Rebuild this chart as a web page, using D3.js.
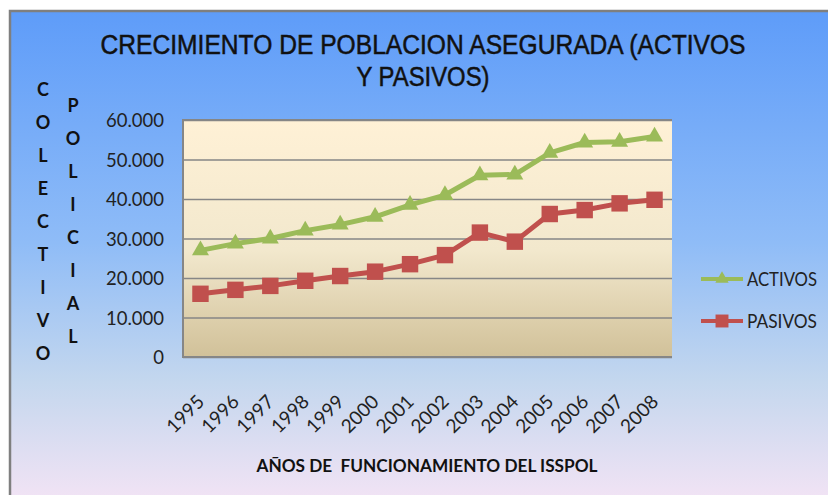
<!DOCTYPE html>
<html>
<head>
<meta charset="utf-8">
<script src="https://cdn.jsdelivr.net/npm/d3@7"></script>
<style>
  body { margin: 0; padding: 0; overflow: hidden; background: #fff; }
  svg { display: block; }
</style>
</head>
<body>
<div class="chart"></div>
<script>
// data
const years = ["1995", "1996", "1997", "1998", "1999", "2000", "2001",
  "2002", "2003", "2004", "2005", "2006", "2007", "2008"];
const activos = [27000, 28700, 30000, 32000, 33500, 35500, 38500,
  41000, 46000, 46200, 51700, 54300, 54500, 55800];
const pasivos = [16000, 17000, 18000, 19300, 20500, 21600, 23500,
  25800, 31500, 29200, 36200, 37200, 38900, 39800];
const yTicks = [0, 10000, 20000, 30000, 40000, 50000, 60000];

const titleLines = ["CRECIMIENTO DE POBLACION ASEGURADA (ACTIVOS", "Y PASIVOS)"];
const xTitle = "AÑOS DE  FUNCIONAMIENTO DEL ISSPOL";
const yTitle1 = "COLECTIVO";
const yTitle2 = "POLICIAL";

const width = 828,
  height = 495;
const plot = { left: 183, right: 672, top: 120, bottom: 357 };

const svg = d3
  .select(".chart")
  .append("svg")
  .attr("width", width)
  .attr("height", height);

const defs = svg.append("defs");

const bg = defs
  .append("linearGradient")
  .attr("id", "bg")
  .attr("x1", 0).attr("y1", 0).attr("x2", 0).attr("y2", 1);
bg.append("stop").attr("offset", "0%").attr("stop-color", "#5e9cf9");
bg.append("stop").attr("offset", "45%").attr("stop-color", "#8fbcf7");
bg.append("stop").attr("offset", "72%").attr("stop-color", "#c4d7ee");
bg.append("stop").attr("offset", "100%").attr("stop-color", "#fce6f6");

const plotBg = defs
  .append("linearGradient")
  .attr("id", "plotBg")
  .attr("x1", 0).attr("y1", 0).attr("x2", 0).attr("y2", 1);
plotBg.append("stop").attr("offset", "0%").attr("stop-color", "#fff1d6");
plotBg.append("stop").attr("offset", "55%").attr("stop-color", "#f2e8cd");
plotBg.append("stop").attr("offset", "100%").attr("stop-color", "#d1c199");

// chart area background + border
svg
  .append("rect")
  .attr("x", 10)
  .attr("y", 11)
  .attr("width", width + 20)
  .attr("height", height + 20)
  .attr("fill", "url(#bg)")
  .attr("stroke", "#7f7f7f")
  .attr("stroke-width", 2.5);

// plot area
svg
  .append("rect")
  .attr("x", plot.left)
  .attr("y", plot.top)
  .attr("width", plot.right - plot.left)
  .attr("height", plot.bottom - plot.top)
  .attr("fill", "url(#plotBg)");

// scales
const xScale = d3
  .scaleBand()
  .domain(years)
  .range([plot.left, plot.right]);

const yScale = d3
  .scaleLinear()
  .domain([0, 60000])
  .range([plot.bottom, plot.top]);

const locale = d3.formatLocale({
  decimal: ",",
  thousands: ".",
  grouping: [3],
  currency: ["$", ""]
});
const fmt = locale.format(",");

// gridlines
const grid = svg
  .append("g")
  .attr("transform", "translate(" + plot.left + ",0)")
  .call(
    d3.axisLeft(yScale)
      .tickValues(yTicks)
      .tickSize(-(plot.right - plot.left))
      .tickFormat("")
  );
grid.select(".domain").remove();
grid.selectAll("line").attr("stroke", "#868686").attr("stroke-width", 1.5);

// plot border (left, top, bottom)
svg
  .append("path")
  .attr("d", "M" + plot.right + "," + plot.top + "H" + plot.left + "V" + plot.bottom + "H" + plot.right)
  .attr("fill", "none")
  .attr("stroke", "#868686")
  .attr("stroke-width", 2);

// y axis
const yAxis = svg
  .append("g")
  .attr("transform", "translate(" + plot.left + ",0)")
  .call(d3.axisLeft(yScale).tickValues(yTicks).tickSize(0).tickPadding(19).tickFormat(fmt));
yAxis.select(".domain").remove();
yAxis
  .selectAll("text")
  .attr("font-family", "Lato, 'Open Sans', sans-serif")
  .attr("font-size", 18.5)
  .attr("fill", "#222")
  .attr("dy", "0.36em");

// x axis
const xAxis = svg
  .append("g")
  .attr("transform", "translate(0," + plot.bottom + ")")
  .call(d3.axisBottom(xScale).tickSize(0));
xAxis.select(".domain").remove();
xAxis
  .selectAll("text")
  .attr("font-family", "Lato, 'Open Sans', sans-serif")
  .attr("font-size", 19)
  .attr("fill", "#222")
  .attr("text-anchor", "end")
  .attr("y", 0)
  .attr("dy", 0)
  .attr("transform", "translate(5,46) rotate(-45)");

// lines
const line = d3
  .line()
  .x((d, i) => xScale(years[i]) + xScale.bandwidth() / 2)
  .y((d) => yScale(d));

const series = [
  { name: "ACTIVOS", values: activos, color: "#9bbb59", symbol: d3.symbolTriangle, size: 125 },
  { name: "PASIVOS", values: pasivos, color: "#c0504d", symbol: d3.symbolSquare, size: 270 }
];

series.forEach((s) => {
  svg
    .append("path")
    .datum(s.values)
    .attr("fill", "none")
    .attr("stroke", s.color)
    .attr("stroke-width", 5)
    .attr("stroke-linejoin", "round")
    .attr("d", line);

  svg
    .selectAll(".mk-" + s.name)
    .data(s.values)
    .enter()
    .append("path")
    .attr("class", "mk-" + s.name)
    .attr("d", d3.symbol().type(s.symbol).size(s.size))
    .attr("fill", s.color)
    .attr("transform", (d, i) =>
      "translate(" + (xScale(years[i]) + xScale.bandwidth() / 2) + "," + yScale(d) + ")");
});

// legend
const legend = svg
  .selectAll(".legend")
  .data(series)
  .enter()
  .append("g")
  .attr("class", "legend")
  .attr("transform", (d, i) => "translate(0," + (279 + i * 42) + ")");

legend
  .append("line")
  .attr("x1", 701)
  .attr("x2", 743)
  .attr("stroke", (d) => d.color)
  .attr("stroke-width", 4);

legend
  .append("path")
  .attr("d", (d) => d3.symbol().type(d.symbol).size(d.size * 0.62)())
  .attr("transform", "translate(722,0)")
  .attr("fill", (d) => d.color);

legend
  .append("text")
  .attr("x", 747)
  .attr("y", 0)
  .attr("dy", "0.36em")
  .attr("font-family", "Lato, 'Open Sans', sans-serif")
  .attr("font-size", 19)
  .attr("fill", "#222")
  .attr("textLength", 70)
  .attr("lengthAdjust", "spacingAndGlyphs")
  .text((d) => d.name);

// title
svg
  .selectAll(".title")
  .data(titleLines)
  .enter()
  .append("text")
  .attr("class", "title")
  .attr("x", 423)
  .attr("y", (d, i) => 54 + i * 32)
  .attr("text-anchor", "middle")
  .attr("font-family", "'Liberation Sans', Arial, sans-serif")
  .attr("font-size", 27)
  .attr("fill", "#111")
  .attr("stroke", "#111")
  .attr("stroke-width", 0.5)
  .attr("textLength", (d, i) => (i === 0 ? 645 : 133))
  .attr("lengthAdjust", "spacingAndGlyphs")
  .text((d) => d);

// x axis title
svg
  .append("text")
  .attr("x", 427)
  .attr("y", 472)
  .attr("text-anchor", "middle")
  .attr("font-family", "Lato, 'Open Sans', sans-serif")
  .attr("font-weight", "bold")
  .attr("font-size", 16.5)
  .attr("fill", "#111")
  .style("white-space", "pre")
  .attr("textLength", 341)
  .attr("lengthAdjust", "spacingAndGlyphs")
  .text(xTitle);

// vertical y titles, one letter per row
svg
  .selectAll(".ytitle1")
  .data(yTitle1.split(""))
  .enter()
  .append("text")
  .attr("class", "ytitle1")
  .attr("x", 43)
  .attr("y", (d, i) => 90 + i * 33)
  .attr("dy", "0.36em")
  .attr("text-anchor", "middle")
  .attr("font-family", "Lato, 'Open Sans', sans-serif")
  .attr("font-weight", "bold")
  .attr("font-size", 18)
  .attr("fill", "#111")
  .text((d) => d);

svg
  .selectAll(".ytitle2")
  .data(yTitle2.split(""))
  .enter()
  .append("text")
  .attr("class", "ytitle2")
  .attr("x", 73)
  .attr("y", (d, i) => 106 + i * 33)
  .attr("dy", "0.36em")
  .attr("text-anchor", "middle")
  .attr("font-family", "Lato, 'Open Sans', sans-serif")
  .attr("font-weight", "bold")
  .attr("font-size", 18)
  .attr("fill", "#111")
  .text((d) => d);
</script>
</body>
</html>
